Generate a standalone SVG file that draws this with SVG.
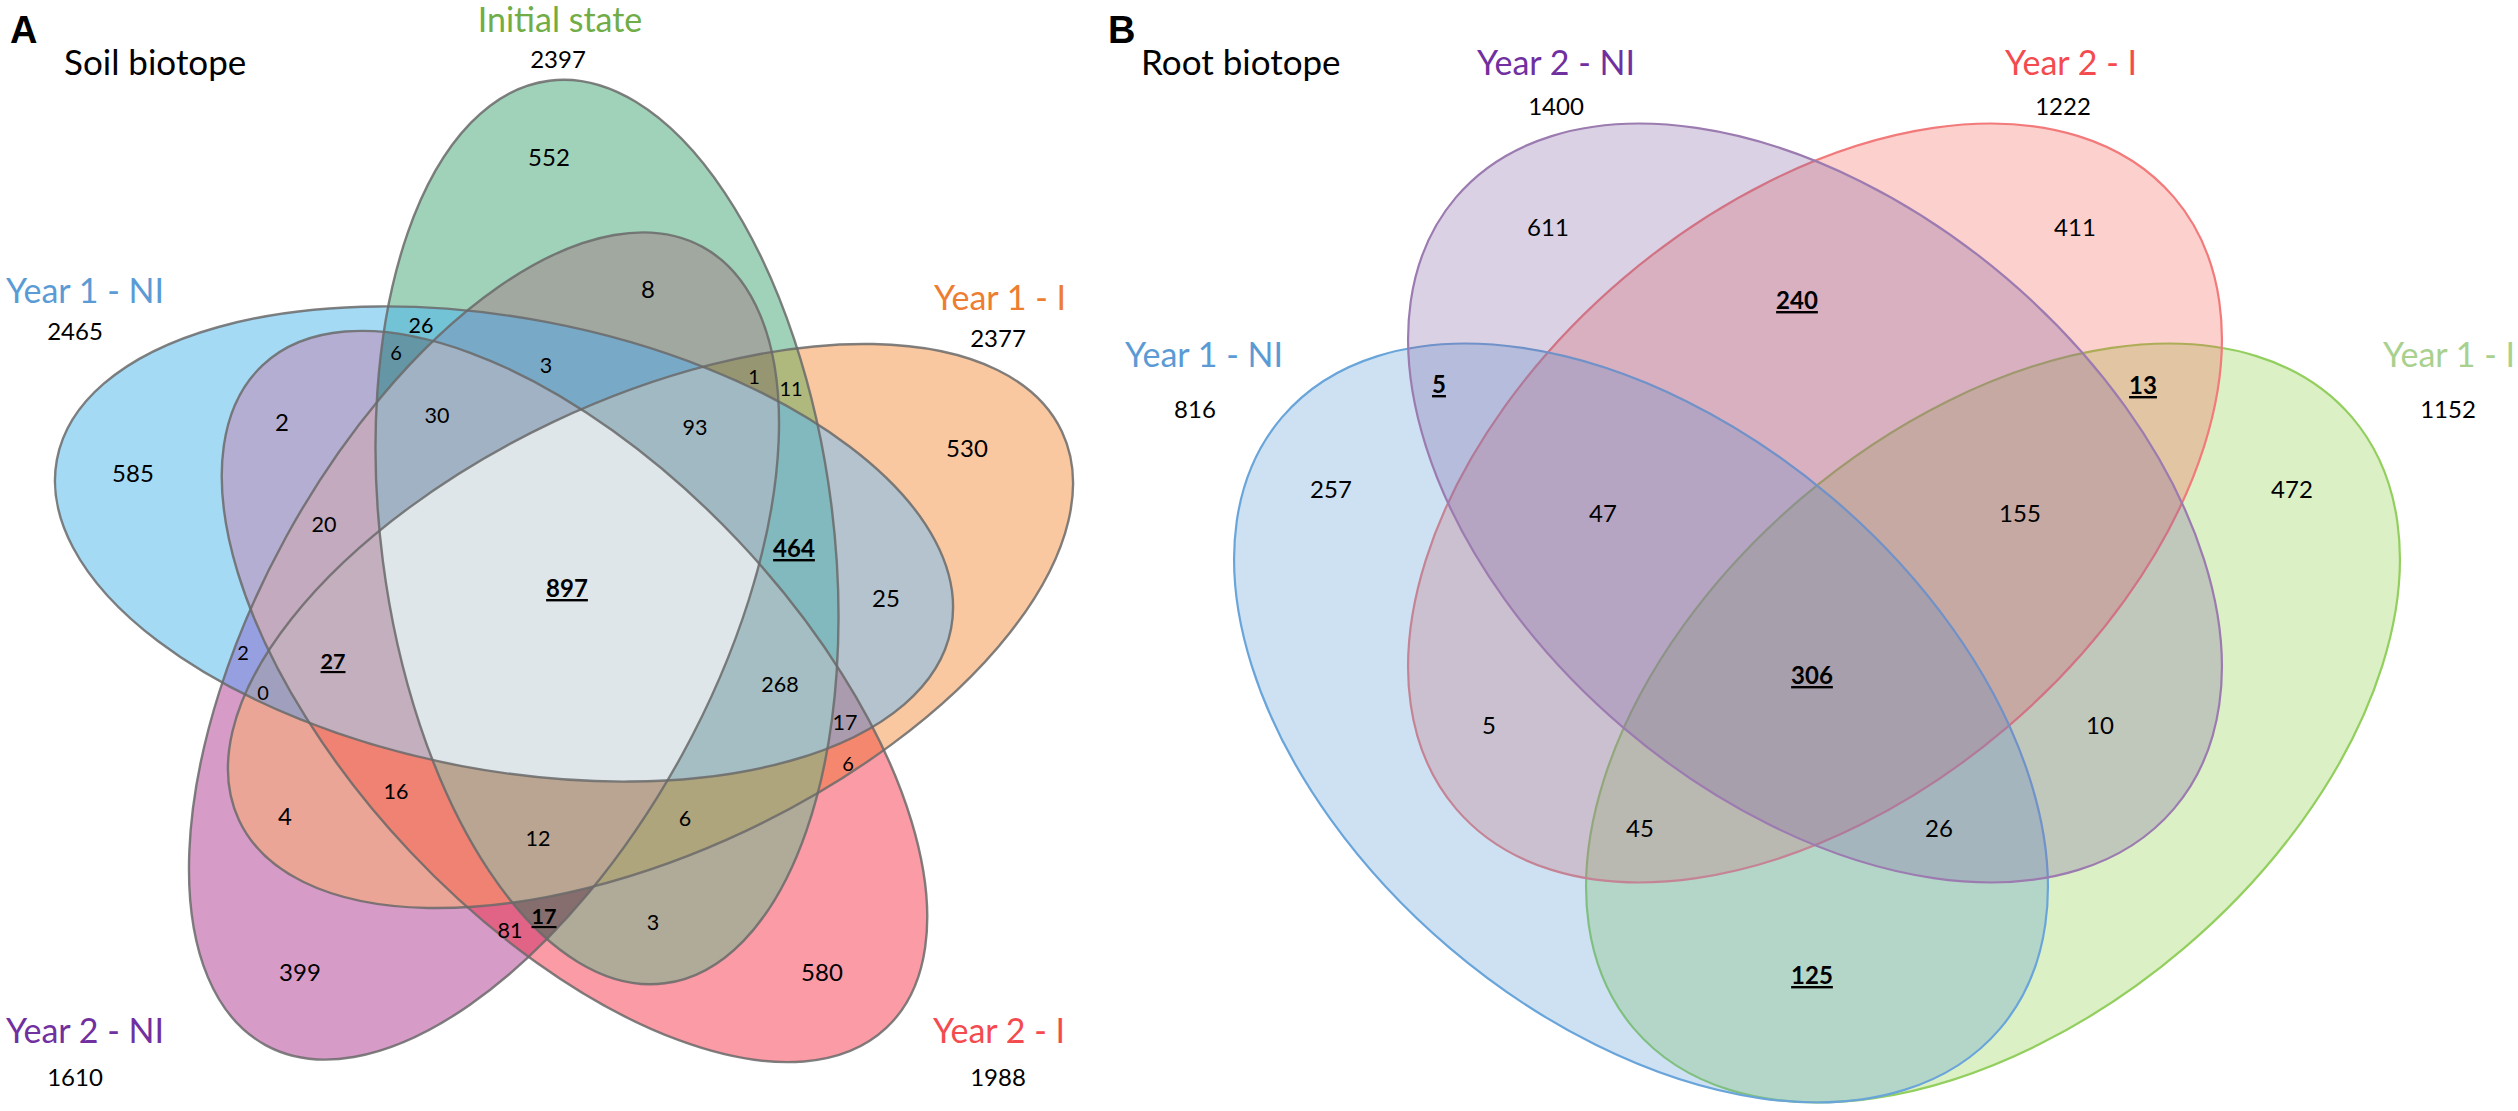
<svg xmlns="http://www.w3.org/2000/svg" width="2518" height="1111" viewBox="0 0 2518 1111">
<style>
text { font-family: Lato, "Open Sans", "Liberation Sans", sans-serif; fill: #000; text-anchor: middle; }
.num { font-size: 24px; }
.sm { font-size: 21.5px; }
.xs { font-size: 20px; }
.b { font-weight: bold; text-decoration: underline; }
.title { font-size: 35px; text-anchor: start; }
.set { font-size: 34px; }
.panel { font-family: "Liberation Sans", Arial, sans-serif; font-weight: bold; font-size: 38px; text-anchor: start; }
.aline { fill: none; stroke: #6a6a6a; stroke-width: 2.4; stroke-opacity: 0.85; }
.bfill { stroke-width: 2.2; }
</style>
<defs>
<ellipse id="aG" cx="607" cy="532" rx="455" ry="226" transform="rotate(82.7 607 532)"/>
<ellipse id="aB" cx="504" cy="544" rx="455" ry="226" transform="rotate(10.7 504 544)"/>
<ellipse id="aP" cx="484" cy="646" rx="455" ry="226" transform="rotate(-61.3 484 646)"/>
<ellipse id="aR" cx="574.5" cy="696.5" rx="455" ry="226" transform="rotate(46.7 574.5 696.5)"/>
<ellipse id="aO" cx="650.5" cy="626" rx="455" ry="226" transform="rotate(-25.3 650.5 626)"/>
<clipPath id="cG"><use href="#aG"/></clipPath>
<clipPath id="cB"><use href="#aB"/></clipPath>
<clipPath id="cP"><use href="#aP"/></clipPath>
<clipPath id="cR"><use href="#aR"/></clipPath>
<clipPath id="cO"><use href="#aO"/></clipPath>
<ellipse id="bB" cx="1641" cy="723" rx="471.5" ry="295.3" transform="rotate(40.4 1641 723)"/>
<ellipse id="bG" cx="1993" cy="723" rx="471.5" ry="295.3" transform="rotate(-40.4 1993 723)"/>
<ellipse id="bP" cx="1815" cy="503" rx="471.5" ry="295.3" transform="rotate(40.4 1815 503)"/>
<ellipse id="bR" cx="1815" cy="503" rx="471.5" ry="295.3" transform="rotate(-40.4 1815 503)"/>
</defs>

<g id="panelA">
<text class="panel" x="10" y="43">A</text>
<text class="title" x="64" y="75">Soil biotope</text>

<g id="setA-year2NI">
<use href="#aP" fill="#D79BC8"/>
<text class="set" x="6" y="1043" style="text-anchor:start;fill:#7030A0">Year 2 - NI</text>
<text class="num" x="75" y="1086">1610</text>
</g>
<g id="setA-year2I">
<use href="#aR" fill="#FA9BA5"/>
<text class="set" x="999" y="1043" style="fill:#F44B4F">Year 2 - I</text>
<text class="num" x="998" y="1086">1988</text>
</g>
<g id="setA-year1I">
<use href="#aO" fill="#FAC8A0"/>
<text class="set" x="1000" y="310" style="fill:#ED7D31">Year 1 - I</text>
<text class="num" x="998" y="347">2377</text>
</g>
<g id="setA-initial">
<use href="#aG" fill="#A0D2B9"/>
<text class="set" x="560" y="32" style="fill:#70AD47">Initial state</text>
<text class="num" x="558" y="68">2397</text>
</g>
<g id="setA-year1NI">
<use href="#aB" fill="#A5DAF5"/>
<text class="set" x="6" y="303" style="text-anchor:start;fill:#5B9BD5">Year 1 - NI</text>
<text class="num" x="75" y="340">2465</text>
</g>

<g id="overlapsA">
<!-- pairs -->
<g clip-path="url(#cG)"><use href="#aB" fill="#73C3D7"/></g>
<g clip-path="url(#cG)"><use href="#aO" fill="#AFB97D"/></g>
<g clip-path="url(#cG)"><use href="#aP" fill="#A0A8A0"/></g>
<g clip-path="url(#cG)"><use href="#aR" fill="#B0AA98"/></g>
<g clip-path="url(#cB)"><use href="#aO" fill="#B4C3CD"/></g>
<g clip-path="url(#cB)"><use href="#aP" fill="#96A0E1"/></g>
<g clip-path="url(#cB)"><use href="#aR" fill="#B4AFD2"/></g>
<g clip-path="url(#cO)"><use href="#aP" fill="#EBA596"/></g>
<g clip-path="url(#cO)"><use href="#aR" fill="#F5876E"/></g>
<g clip-path="url(#cP)"><use href="#aR" fill="#E16487"/></g>
<!-- triples -->
<g clip-path="url(#cG)"><g clip-path="url(#cB)"><use href="#aP" fill="#78AAC8"/></g></g>
<g clip-path="url(#cG)"><g clip-path="url(#cB)"><use href="#aR" fill="#6496A5"/></g></g>
<g clip-path="url(#cG)"><g clip-path="url(#cP)"><use href="#aO" fill="#969673"/></g></g>
<g clip-path="url(#cG)"><g clip-path="url(#cB)"><use href="#aO" fill="#82B9BE"/></g></g>
<g clip-path="url(#cB)"><g clip-path="url(#cP)"><use href="#aR" fill="#C3AABE"/></g></g>
<g clip-path="url(#cB)"><g clip-path="url(#cP)"><use href="#aO" fill="#A0A0BE"/></g></g>
<g clip-path="url(#cB)"><g clip-path="url(#cO)"><use href="#aR" fill="#AA9BAF"/></g></g>
<g clip-path="url(#cP)"><g clip-path="url(#cR)"><use href="#aO" fill="#F08273"/></g></g>
<g clip-path="url(#cG)"><g clip-path="url(#cO)"><use href="#aR" fill="#AFA57D"/></g></g>
<g clip-path="url(#cG)"><g clip-path="url(#cP)"><use href="#aR" fill="#876E6E"/></g></g>
<!-- quads -->
<g clip-path="url(#cG)"><g clip-path="url(#cB)"><g clip-path="url(#cP)"><use href="#aR" fill="#A0B2C3"/></g></g></g>
<g clip-path="url(#cG)"><g clip-path="url(#cB)"><g clip-path="url(#cO)"><use href="#aP" fill="#A0B9C3"/></g></g></g>
<g clip-path="url(#cB)"><g clip-path="url(#cP)"><g clip-path="url(#cR)"><use href="#aO" fill="#C3AFBE"/></g></g></g>
<g clip-path="url(#cG)"><g clip-path="url(#cB)"><g clip-path="url(#cO)"><use href="#aR" fill="#A5BEC3"/></g></g></g>
<g clip-path="url(#cG)"><g clip-path="url(#cO)"><g clip-path="url(#cR)"><use href="#aP" fill="#B9A591"/></g></g></g>
<!-- all five -->
<g clip-path="url(#cG)"><g clip-path="url(#cB)"><g clip-path="url(#cP)"><g clip-path="url(#cR)"><use href="#aO" fill="#DEE6EA"/></g></g></g></g>
</g>

<g id="outlinesA">
<use href="#aP" class="aline"/>
<use href="#aR" class="aline"/>
<use href="#aO" class="aline"/>
<use href="#aG" class="aline"/>
<use href="#aB" class="aline"/>
</g>

<g id="countsA">
<text class="num" x="549" y="166">552</text>
<text class="num" x="133" y="482">585</text>
<text class="num" x="967" y="457">530</text>
<text class="num" x="300" y="981">399</text>
<text class="num" x="822" y="981">580</text>
<text class="num" x="648" y="298">8</text>
<text class="sm" x="421" y="333">26</text>
<text class="xs" x="396" y="360">6</text>
<text class="sm" x="546" y="373">3</text>
<text class="xs" x="754" y="384">1</text>
<text class="xs" x="791" y="396">11</text>
<text class="num" x="282" y="431">2</text>
<text class="sm" x="437" y="423">30</text>
<text class="sm" x="695" y="435">93</text>
<text class="sm" x="324" y="532">20</text>
<text class="num b" x="794" y="557">464</text>
<text class="num b" x="567" y="597">897</text>
<text class="num" x="886" y="607">25</text>
<text class="sm b" x="333" y="669">27</text>
<text class="xs" x="243" y="660">2</text>
<text class="xs" x="263" y="700">0</text>
<text class="sm" x="780" y="692">268</text>
<text class="sm" x="845" y="730">17</text>
<text class="xs" x="848" y="771">6</text>
<text class="sm" x="396" y="799">16</text>
<text class="num" x="285" y="825">4</text>
<text class="sm" x="685" y="826">6</text>
<text class="sm" x="538" y="846">12</text>
<text class="sm b" x="544" y="924">17</text>
<text class="sm" x="510" y="938">81</text>
<text class="sm" x="653" y="930">3</text>
</g>
</g>

<g id="panelB">
<text class="panel" x="1108" y="43">B</text>
<text class="title" x="1141" y="75">Root biotope</text>

<g id="setB-year1I">
<use href="#bG" class="bfill" fill="#92D050" fill-opacity="0.33" stroke="#92CF5E"/>
<text class="set" x="2449" y="367" style="fill:#A9D18E">Year 1 - I</text>
<text class="num" x="2448" y="418">1152</text>
</g>
<g id="setB-year2I">
<use href="#bR" class="bfill" fill="#F4574C" fill-opacity="0.28" stroke="#F27A7A"/>
<text class="set" x="2071" y="75" style="fill:#F44B4F">Year 2 - I</text>
<text class="num" x="2063" y="115">1222</text>
</g>
<g id="setB-year1NI">
<use href="#bB" class="bfill" fill="#5B9BD5" fill-opacity="0.3" stroke="#6AA5DA"/>
<text class="set" x="1204" y="367" style="fill:#5B9BD5">Year 1 - NI</text>
<text class="num" x="1195" y="418">816</text>
</g>
<g id="setB-year2NI">
<use href="#bP" class="bfill" fill="#8064A2" fill-opacity="0.29" stroke="#9C7BB0"/>
<text class="set" x="1556" y="75" style="fill:#7030A0">Year 2 - NI</text>
<text class="num" x="1556" y="115">1400</text>
</g>

<g id="countsB">
<text class="num" x="1548" y="236">611</text>
<text class="num" x="2075" y="236">411</text>
<text class="num b" x="1797" y="309">240</text>
<text class="num b" x="1439" y="393">5</text>
<text class="num b" x="2143" y="394">13</text>
<text class="num" x="1331" y="498">257</text>
<text class="num" x="1603" y="522">47</text>
<text class="num" x="2020" y="522">155</text>
<text class="num" x="2292" y="498">472</text>
<text class="num b" x="1812" y="684">306</text>
<text class="num" x="1489" y="734">5</text>
<text class="num" x="2100" y="734">10</text>
<text class="num" x="1640" y="837">45</text>
<text class="num" x="1939" y="837">26</text>
<text class="num b" x="1812" y="984">125</text>
</g>
</g>
</svg>
